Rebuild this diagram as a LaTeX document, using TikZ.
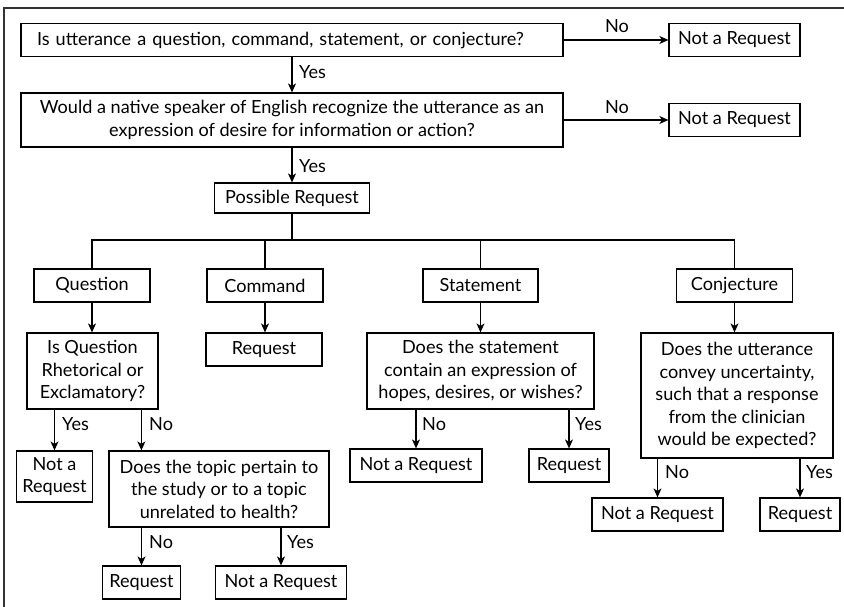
\documentclass[tikz,border=0pt]{standalone}
\usepackage{fontspec}
\setmainfont{Lato}
\usetikzlibrary{arrows.meta}
\begin{document}
\begin{tikzpicture}[x=1pt,y=-1pt,
  every node/.style={font=\fontsize{18.1}{22.5}\selectfont, inner sep=0pt},
  box/.style={draw, line width=1.2pt, align=center, minimum height=33pt},
  lbl/.style={anchor=west},
  arr/.style={line width=1.2pt, -{Stealth[length=9pt,width=8pt,inset=2.5pt]}},
  ln/.style={line width=1.2pt},
  frame/.style={line width=1.5pt, draw=black!80}]
\useasboundingbox (0,0) rectangle (844,607);
\draw[frame] (4,607) -- (4,8) -- (844,8);

% top
\node[box, minimum width=542pt, text width=510pt, inner xsep=16pt, align=left] (q1) at (292,40) {Is utterance a question, command, statement, or conjecture?};
\node[box, minimum width=131pt] (nr1) at (734.5,40) {Not a Request};
\node[box, minimum width=542pt, minimum height=54pt] (q2) at (292,120) {Would a native speaker of English recognize the utterance as an\\expression of desire for information or action?};
\node[box, minimum width=131pt] (nr2) at (734.5,120) {Not a Request};
\node[box, minimum width=155pt, minimum height=30pt] (pr) at (292,198) {Possible Request};

\draw[arr] (q1.east) -- (nr1.west);
\draw[arr] (q2.east) -- (nr2.west);
\draw[arr] (q1.south) -- (q2.north);
\draw[arr] (q2.south) -- (pr.north);
\node (l1) at (617,26) {No};
\node (l2) at (617,107) {No};
\node[lbl] (l3) at (299,72) {Yes};
\node[lbl] (l4) at (299,166) {Yes};

% categories
\coordinate (bus) at (0,240);
\node[box, minimum width=116pt] (Q) at (92,285.5) {Question};
\node[box, minimum width=116pt] (C) at (265,285.5) {Command};
\node[box, minimum width=115pt] (S) at (480.5,285.5) {Statement};
\node[box, minimum width=116pt] (J) at (734.5,285.5) {Conjecture};
\draw[ln] (pr.south) -- (pr.south |- bus);
\draw[ln] (Q.north) -- (Q.north |- bus) -- (J.north |- bus) -- (J.north);
\draw[ln] (C.north) -- (C.north |- bus);
\draw[ln] (S.north) -- (S.north |- bus);

% second level
\node[box, minimum width=131pt, minimum height=76pt] (IsQ) at (92.5,371) {Is Question\\Rhetorical or\\Exclamatory?};
\node[box, minimum width=116pt] (RC) at (264,349.5) {Request};
\node[box, minimum width=227pt, minimum height=76pt] (SQ) at (480.5,371) {Does the statement\\contain an expression of\\hopes, desires, or wishes?};
\node[box, minimum width=192pt, minimum height=125pt] (JQ) at (737,395.5) {Does the utterance\\convey uncertainty,\\such that a response\\from the clinician\\would be expected?};
\draw[arr] (Q.south) -- (Q.south |- IsQ.north);
\draw[arr] (C.south) -- (C.south |- RC.north);
\draw[arr] (S.south) -- (S.south |- SQ.north);
\draw[arr] (J.south) -- (J.south |- JQ.north);

% question branch
\node[box, minimum width=76pt, minimum height=51pt] (NRQ) at (54.5,476.5) {Not a\\Request};
\node[box, minimum width=220pt, minimum height=76pt] (T) at (219,489) {Does the topic pertain to\\the study or to a topic\\unrelated to health?};
\coordinate (tn) at ([xshift=33pt]T.north west);
\draw[arr] (NRQ.north |- IsQ.south) -- (NRQ.north);
\draw[arr] (tn |- IsQ.south) -- (tn);
\node[lbl] (l5) at (62,424) {Yes};
\node[lbl] (l6) at (149,424) {No};

\node[box, minimum width=78pt] (RT) at (141.5,582.5) {Request};
\node[box, minimum width=131pt] (NRT) at (281,582.5) {Not a Request};
\draw[arr] (RT.north |- T.south) -- (RT.north);
\draw[arr] (NRT.north |- T.south) -- (NRT.north);
\node[lbl] (l7) at (149,542) {No};
\node[lbl] (l8) at (287,542) {Yes};

% statement branch
\node[box, minimum width=132pt] (NRS) at (416,465.5) {Not a Request};
\node[box, minimum width=80pt] (RS) at (569,465.5) {Request};
\draw[arr] (NRS.north |- SQ.south) -- (NRS.north);
\draw[arr] (RS.north |- SQ.south) -- (RS.north);
\node[lbl] (l9) at (422,424) {No};
\node[lbl] (l10) at (575,424) {Yes};

% conjecture branch
\node[box, minimum width=131pt] (NRJ) at (657.5,514.5) {Not a Request};
\node[box, minimum width=80pt] (RJ) at (800,514.5) {Request};
\draw[arr] (NRJ.north |- JQ.south) -- (NRJ.north);
\draw[arr] (RJ.north |- JQ.south) -- (RJ.north);
\node[lbl] (l11) at (665,472) {No};
\node[lbl] (l12) at (806,472) {Yes};
\end{tikzpicture}
\end{document}
